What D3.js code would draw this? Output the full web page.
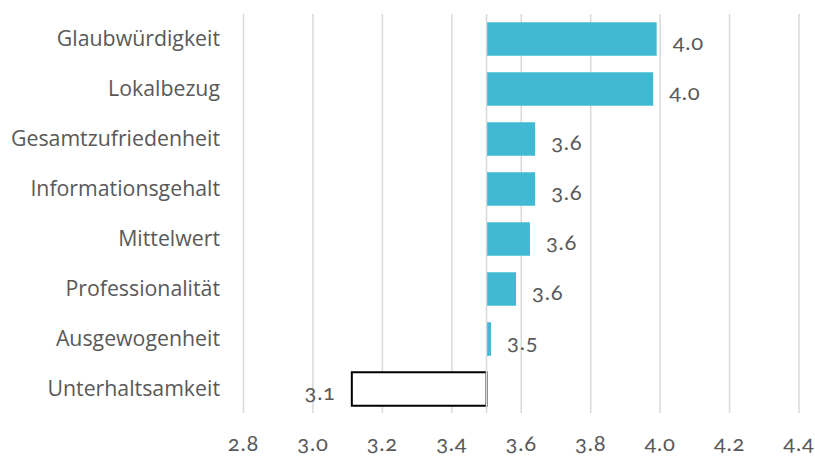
<!DOCTYPE html>
<html>
<head>
<meta charset="utf-8">
<script src="https://cdn.jsdelivr.net/npm/d3@7"></script>
<style>
  body { margin: 0; background: #fff; }
  .cat text { font-family: "Open Sans", "Noto Sans", sans-serif; font-size: 21.3px; fill: #595959; }
  .num { font-family: Lato, sans-serif; font-size: 22px; letter-spacing: 0.8px; fill: #595959; font-variant-numeric: oldstyle-nums; font-feature-settings: "onum" 1; }
</style>
</head>
<body>
<div id="chart"></div>
<script>
var categories = ["Glaubwürdigkeit", "Lokalbezug", "Gesamtzufriedenheit", "Informationsgehalt",
                  "Mittelwert", "Professionalität", "Ausgewogenheit", "Unterhaltsamkeit"];
var values = [3.99, 3.98, 3.64, 3.64, 3.625, 3.585, 3.513, 3.112];
var labels = ["4.0", "4.0", "3.6", "3.6", "3.6", "3.6", "3.5", "3.1"];
var tickValues = [2.8, 3.0, 3.2, 3.4, 3.6, 3.8, 4.0, 4.2, 4.4];
var baseValue = 3.5;

var width = 815, height = 456;

var svg = d3.select("#chart").append("svg")
    .attr("width", width)
    .attr("height", height);

var x = d3.scaleLinear().domain([2.8, 4.4]).range([243.5, 799]);
var y = d3.scaleBand().domain(categories).range([14, 414]).paddingInner(0.33).paddingOuter(0.165);

// gridlines
svg.append("g").selectAll("line")
    .data(tickValues)
  .enter().append("line")
    .attr("x1", function(d) { return x(d); })
    .attr("x2", function(d) { return x(d); })
    .attr("y1", 14)
    .attr("y2", 413)
    .attr("stroke", "#d9d9d9")
    .attr("stroke-width", 1.5);

// tick labels
svg.append("g").selectAll("text")
    .data(tickValues)
  .enter().append("text")
    .attr("class", "num")
    .attr("x", function(d) { return x(d); })
    .attr("y", 451)
    .attr("text-anchor", "middle")
    .text(function(d) { return d3.format(".1f")(d); });

// bars
svg.append("g").selectAll("rect")
    .data(values)
  .enter().append("rect")
    .attr("x", function(d) { return x(Math.min(d, baseValue)); })
    .attr("y", function(d, i) { return y(categories[i]); })
    .attr("width", function(d) { return Math.abs(x(d) - x(baseValue)); })
    .attr("height", y.bandwidth())
    .attr("fill", function(d) { return d < baseValue ? "#fff" : "#41b9d3"; })
    .attr("stroke", function(d) { return d < baseValue ? "#000" : "none"; })
    .attr("stroke-width", 2);

// axis line at base value
svg.append("line")
    .attr("x1", x(baseValue)).attr("x2", x(baseValue))
    .attr("y1", 14).attr("y2", 413)
    .attr("stroke", "#d9d9d9")
    .attr("stroke-width", 1.5);

// value labels
svg.append("g").selectAll("text")
    .data(values)
  .enter().append("text")
    .attr("class", "num")
    .attr("x", function(d) { return d < baseValue ? x(d) - 16 : x(d) + 16; })
    .attr("y", function(d, i) { return y(categories[i]) + y.bandwidth() / 2 + 11; })
    .attr("text-anchor", function(d) { return d < baseValue ? "end" : "start"; })
    .text(function(d, i) { return labels[i]; });

// category labels
svg.append("g").attr("class", "cat").selectAll("text")
    .data(categories)
  .enter().append("text")
    .attr("x", 220)
    .attr("y", function(d) { return y(d) + y.bandwidth() / 2; })
    .attr("dy", "0.35em")
    .attr("text-anchor", "end")
    .text(function(d) { return d; });
</script>
</body>
</html>
